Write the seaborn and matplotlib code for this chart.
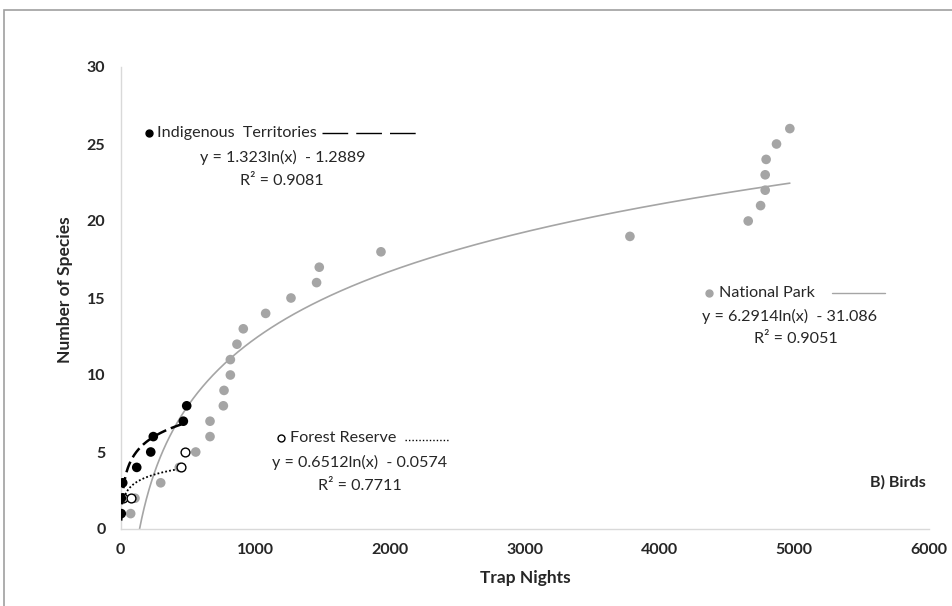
import numpy as np
import pandas as pd
import matplotlib
matplotlib.use("Agg")
import matplotlib.pyplot as plt
from matplotlib.lines import Line2D
from matplotlib.patches import Rectangle
import seaborn as sns

# ---------------- data ----------------
np_x = [74, 106, 297, 435, 557, 663, 663, 762, 767, 814, 814, 863, 910, 1076,
        1264, 1454, 1474, 1932, 3780, 4658, 4750, 4784, 4784, 4791, 4868, 4967]
np_y = [1, 2, 3, 4, 5, 6, 7, 8, 9, 10, 11, 12, 13, 14,
        15, 16, 17, 18, 19, 20, 21, 22, 23, 24, 25, 26]

it_x = [4, 5, 15, 119, 223, 242, 465, 490]
it_y = [1, 2, 3, 4, 5, 6, 7, 8]

fr_x = [16, 74, 450, 475]
fr_y = [2, 2, 4, 5]

# logarithmic trend coefficients (a*ln(x) + b) as printed on the chart
np_coef = [6.2914, -31.086]
it_coef = [1.323, -1.2889]
fr_coef = [0.6512, -0.0574]

x_ticks = [0, 1000, 2000, 3000, 4000, 5000, 6000]
y_ticks = [0, 5, 10, 15, 20, 25, 30]

GRAY = "#A5A5A5"

sns.set_theme(style="white")
plt.rcParams["font.family"] = ["Lato", "DejaVu Sans"]

W, H = 952, 606
fig = plt.figure(figsize=(W / 100, H / 100), dpi=100)
L, R, T, B = 120.7, 929, 67, 529
ax = fig.add_axes([L / W, 1 - B / H, (R - L) / W, (B - T) / H])


def trend(xs, coef):
    a, b = coef
    lo = max(min(xs), np.exp(-b / a))
    xx = np.geomspace(lo, max(xs), 300)
    return pd.DataFrame({"x": xx, "y": a * np.log(xx) + b})


# trend lines
sns.lineplot(data=trend(np_x, np_coef), x="x", y="y", ax=ax, color=GRAY,
             lw=1.2, zorder=2, estimator=None, sort=False)
sns.lineplot(data=trend(fr_x, fr_coef), x="x", y="y", ax=ax, color="black",
             lw=1.3, zorder=4, estimator=None, sort=False, linestyle=(0, (1, 1.2)))
sns.lineplot(data=trend(it_x, it_coef), x="x", y="y", ax=ax, color="black",
             lw=1.8, zorder=6, estimator=None, sort=False, linestyle=(0, (4.5, 2)))

# points
sns.scatterplot(x=np_x, y=np_y, ax=ax, color=GRAY, s=48, edgecolor="none", zorder=3)
sns.scatterplot(x=fr_x, y=fr_y, ax=ax, facecolor="white", edgecolor="black",
                s=40, linewidth=1.0, zorder=5)
sns.scatterplot(x=it_x, y=it_y, ax=ax, color="black", s=48, edgecolor="none", zorder=7)

ax.set_xlim(0, 6000)
ax.set_ylim(0, 30)
ax.set_xticks(x_ticks)
ax.set_yticks(y_ticks)
ax.set_xticklabels([str(v) for v in x_ticks], fontweight="bold", fontsize=11.5)
ax.set_yticklabels([str(v) for v in y_ticks], fontweight="bold", fontsize=11.5)
ax.tick_params(axis="both", length=0)
ax.tick_params(axis="x", pad=10)
ax.tick_params(axis="y", pad=11)
for s in ["top", "right"]:
    ax.spines[s].set_visible(False)
for s in ["left", "bottom"]:
    ax.spines[s].set_color("#D9D9D9")
    ax.spines[s].set_linewidth(1.0)
ax.set_xlabel("")
ax.set_ylabel("")
ax.grid(False)

# axis titles
fig.text(525 / W, 1 - 578 / H, "Trap Nights", ha="center", va="center",
         fontweight="bold", fontsize=12.5)
fig.text(65 / W, 1 - 290 / H, "Number of Species", ha="center", va="center",
         rotation=90, fontweight="bold", fontsize=12.5)

FS = 11.6


def ftext(px, py, s, **kw):
    fig.text(px / W, 1 - py / H, s, va="center", fontsize=FS, **kw)


def fline(x0, x1, py, **kw):
    fig.add_artist(Line2D([x0 / W, x1 / W], [1 - py / H, 1 - py / H],
                          transform=fig.transFigure, **kw))


def fmark(px, py, **kw):
    fig.add_artist(Line2D([px / W], [1 - py / H], transform=fig.transFigure,
                          linestyle="none", marker="o", **kw))


# Indigenous Territories label
fmark(149, 133, color="black", markersize=5)
ftext(157, 133, "Indigenous  Territories", ha="left")
fline(322, 418, 133, color="black", lw=1.0, dashes=(18.5, 5.8))
ftext(283, 157, "y = 1.323ln(x)  - 1.2889", ha="center")
ftext(282, 181, "R² = 0.9081", ha="center")

# National Park label
fmark(709, 293, color=GRAY, markersize=5)
ftext(719, 293, "National Park", ha="left")
fline(832, 885, 293, color=GRAY, lw=1.0)
ftext(790, 316, "y = 6.2914ln(x)  - 31.086", ha="center")
ftext(796, 339, "R² = 0.9051", ha="center")

# Forest Reserve label
fmark(281, 438, markerfacecolor="white", markeredgecolor="black",
      markersize=5, markeredgewidth=1.0)
ftext(290, 438, "Forest Reserve", ha="left")
fline(405, 448, 440, color="black", lw=1.0, linestyle=(0, (1, 1.5)))
ftext(360, 462, "y = 0.6512ln(x)  - 0.0574", ha="center")
ftext(360, 486, "R² = 0.7711", ha="center")

# panel label
ftext(898, 482, "B) Birds", ha="center", fontweight="bold")

# chart border
fig.add_artist(Rectangle((4 / W, -0.1), 1.2, 1 - 10 / H + 0.1,
                         transform=fig.transFigure, fill=False,
                         edgecolor="#A0A0A0", lw=1.2))

fig.savefig("out.png", dpi=100)
